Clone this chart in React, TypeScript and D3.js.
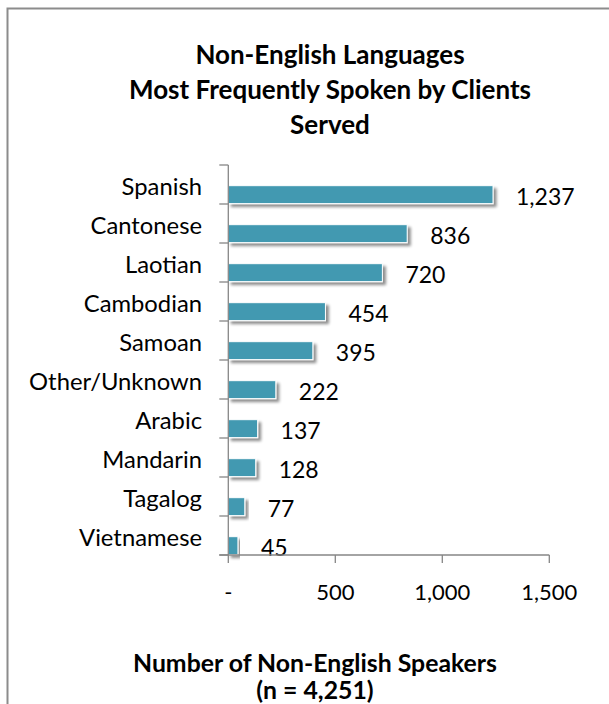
import React from "react";
import * as d3 from "d3";

const categories = ["Spanish", "Cantonese", "Laotian", "Cambodian", "Samoan", "Other/Unknown", "Arabic", "Mandarin", "Tagalog", "Vietnamese"];
const values = [1237, 836, 720, 454, 395, 222, 137, 128, 77, 45];
const xTicks = [0, 500, 1000, 1500];
const titleLines = ["Non-English Languages", "Most Frequently Spoken by Clients", "Served"];
const axisTitleLines = ["Number of Non-English Speakers", "(n = 4,251)"];

const W = 609;
const H = 704;
const FONT = "Lato, 'Open Sans', sans-serif";

export default function App() {
  const x = d3.scaleLinear().domain([0, 1500]).range([228.3, 549.3]);
  const y = d3.scaleBand<string>().domain(categories).range([165, 555]).paddingInner(0).paddingOuter(0);
  const bw = y.bandwidth();
  const fmt = d3.format(",");
  const tickFmt = (v: number) => (v === 0 ? "-" : fmt(v));
  const axisColor = "#868686";
  const barColor = "#4399B1";

  return (
    <svg width={W} height={H} style={{ position: "absolute", left: 0, top: 0, background: "#fff" }}>
      <defs>
        <filter id="sh" x="-10%" y="-30%" width="130%" height="180%">
          <feGaussianBlur in="SourceAlpha" stdDeviation="1.6" />
          <feOffset dx="2.5" dy="2.5" result="b" />
          <feComponentTransfer>
            <feFuncA type="linear" slope="0.45" />
          </feComponentTransfer>
          <feMerge>
            <feMergeNode />
            <feMergeNode in="SourceGraphic" />
          </feMerge>
        </filter>
      </defs>
      <rect x={0} y={0} width={W} height={H} fill="#fff" />
      {/* frame */}
      <rect x={7.5} y={8.5} width={W + 10} height={H + 10} fill="none" stroke="#8c8c8c" strokeWidth={2} />

      {/* title */}
      {titleLines.map((t, i) => (
        <text key={t} x={330} y={64 + i * 35} textAnchor="middle" fontFamily={FONT} fontWeight={700} fontSize={26} fill="#000">
          {t}
        </text>
      ))}

      {/* bars */}
      {categories.map((c, i) => {
        const y0 = (y(c) as number) + bw * 0.53;
        const h = bw * 0.46;
        return (
          <g key={c}>
            <rect x={x(0)} y={y0} width={x(values[i]) - x(0)} height={h} fill={barColor} stroke="#fff" strokeWidth={1} filter="url(#sh)" />
            <text x={x(values[i]) + 23} y={y0 + h / 2 + 1} dominantBaseline="central" fontFamily={FONT} fontSize={23} fill="#000">
              {fmt(values[i])}
            </text>
            <text x={202} y={(y(c) as number) + bw / 2 + 1.5} dominantBaseline="central" textAnchor="end" fontFamily={FONT} fontSize={23.8} fill="#000">
              {c}
            </text>
          </g>
        );
      })}

      {/* y axis */}
      <line x1={x(0)} x2={x(0)} y1={165} y2={555} stroke={axisColor} strokeWidth={1.3} />
      {d3.range(categories.length + 1).map((i) => {
        const yy = 165 + i * bw;
        return <line key={i} x1={x(0) - 9} x2={x(0)} y1={yy} y2={yy} stroke={axisColor} strokeWidth={1.3} />;
      })}

      {/* x axis */}
      <line x1={x(0) - 9} x2={x(1500)} y1={555} y2={555} stroke={axisColor} strokeWidth={1.3} />
      {xTicks.map((t) => (
        <g key={t}>
          <line x1={x(t)} x2={x(t)} y1={555} y2={563} stroke={axisColor} strokeWidth={1.3} />
          <text x={x(t)} y={591} dominantBaseline="central" textAnchor="middle" fontFamily={FONT} fontSize={22} fill="#000">
            {tickFmt(t)}
          </text>
        </g>
      ))}

      {/* axis title */}
      {axisTitleLines.map((t, i) => (
        <text key={t} x={315} y={672 + i * 27} textAnchor="middle" fontFamily={FONT} fontWeight={700} fontSize={24.8} fill="#000">
          {t}
        </text>
      ))}
    </svg>
  );
}
